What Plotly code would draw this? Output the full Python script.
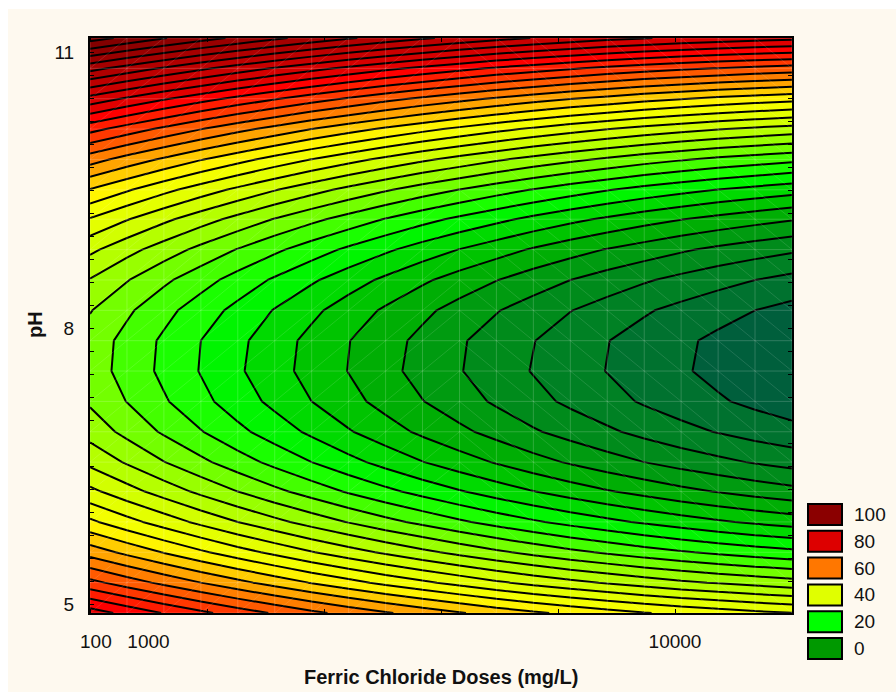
import plotly.graph_objects as go

# Ferric chloride dose grid (mg/L) and pH grid of the response surface
dose = [0, 632, 1263, 1895, 2526, 3158, 3789, 4421, 5053, 5684, 6316, 6947,
        7579, 8211, 8842, 9474, 10105, 10737, 11368, 12000]
ph = [4.91, 5.24, 5.57, 5.90, 6.23, 6.55, 6.88, 7.21, 7.54, 7.87, 8.20, 8.53,
      8.86, 9.19, 9.51, 9.84, 10.17, 10.50, 10.83, 11.16]

# response values, one row per pH value (bottom to top), one column per dose
z_rows = [
    [75.2, 72.5, 69.8, 67.3, 64.9, 62.6, 60.4, 58.3, 56.4, 54.5, 52.8, 51.1, 49.6, 48.2, 46.9, 45.7, 44.7, 43.7, 42.8, 42.1],
    [64.1, 61.3, 58.6, 56.0, 53.5, 51.1, 48.8, 46.7, 44.6, 42.7, 40.9, 39.1, 37.5, 36.0, 34.7, 33.4, 32.2, 31.2, 30.3, 29.4],
    [54.5, 51.6, 48.8, 46.1, 43.5, 41.1, 38.7, 36.5, 34.4, 32.4, 30.5, 28.7, 27.0, 25.4, 24.0, 22.6, 21.4, 20.3, 19.3, 18.4],
    [46.2, 43.2, 40.4, 37.6, 35.0, 32.5, 30.1, 27.8, 25.6, 23.6, 21.6, 19.7, 18.0, 16.4, 14.9, 13.5, 12.2, 11.0, 9.9, 9.0],
    [39.4, 36.4, 33.5, 30.7, 28.0, 25.4, 23.0, 20.6, 18.4, 16.3, 14.3, 12.4, 10.6, 8.9, 7.3, 5.9, 4.5, 3.3, 2.2, 1.2],
    [34.1, 31.1, 28.1, 25.3, 22.6, 20.0, 17.5, 15.1, 12.8, 10.6, 8.6, 6.7, 4.8, 3.1, 1.5, 0.0, -1.4, -2.6, -3.8, -4.8],
    [30.1, 27.0, 24.0, 21.2, 18.4, 15.8, 13.3, 10.8, 8.5, 6.3, 4.3, 2.3, 0.4, -1.3, -2.9, -4.5, -5.9, -7.2, -8.4, -9.4],
    [27.5, 24.4, 21.4, 18.5, 15.7, 13.1, 10.5, 8.1, 5.8, 3.6, 1.5, -0.5, -2.4, -4.2, -5.8, -7.4, -8.8, -10.1, -11.3, -12.4],
    [26.3, 23.2, 20.2, 17.3, 14.5, 11.8, 9.3, 6.9, 4.5, 2.3, 0.2, -1.8, -3.7, -5.5, -7.1, -8.7, -10.1, -11.4, -12.7, -13.8],
    [26.5, 23.4, 20.4, 17.5, 14.8, 12.1, 9.5, 7.1, 4.8, 2.6, 0.4, -1.5, -3.4, -5.2, -6.9, -8.4, -9.9, -11.2, -12.4, -13.5],
    [28.2, 25.1, 22.1, 19.2, 16.5, 13.8, 11.3, 8.8, 6.5, 4.3, 2.2, 0.2, -1.6, -3.4, -5.0, -6.6, -8.0, -9.3, -10.5, -11.6],
    [31.3, 28.2, 25.2, 22.4, 19.6, 17.0, 14.5, 12.1, 9.8, 7.6, 5.5, 3.6, 1.7, -0.0, -1.6, -3.1, -4.5, -5.8, -7.0, -8.1],
    [35.8, 32.7, 29.8, 27.0, 24.3, 21.7, 19.2, 16.8, 14.6, 12.4, 10.4, 8.5, 6.6, 4.9, 3.3, 1.9, 0.5, -0.8, -1.9, -2.9],
    [41.7, 38.7, 35.8, 33.0, 30.4, 27.8, 25.4, 23.1, 20.8, 18.7, 16.7, 14.9, 13.1, 11.4, 9.9, 8.4, 7.1, 5.9, 4.8, 3.8],
    [48.8, 45.9, 43.0, 40.3, 37.7, 35.2, 32.8, 30.5, 28.4, 26.3, 24.4, 22.5, 20.8, 19.2, 17.7, 16.3, 15.1, 13.9, 12.9, 11.9],
    [57.5, 54.6, 51.9, 49.2, 46.7, 44.2, 41.9, 39.7, 37.6, 35.6, 33.8, 32.0, 30.3, 28.8, 27.4, 26.0, 24.8, 23.7, 22.8, 21.9],
    [67.7, 64.9, 62.2, 59.6, 57.1, 54.8, 52.5, 50.4, 48.4, 46.5, 44.7, 43.0, 41.4, 39.9, 38.6, 37.3, 36.2, 35.2, 34.3, 33.5],
    [79.2, 76.5, 73.9, 71.4, 69.0, 66.8, 64.6, 62.6, 60.6, 58.8, 57.1, 55.5, 54.0, 52.6, 51.4, 50.2, 49.2, 48.2, 47.4, 46.7],
    [92.2, 89.6, 87.1, 84.7, 82.4, 80.2, 78.2, 76.2, 74.4, 72.7, 71.1, 69.5, 68.2, 66.9, 65.7, 64.6, 63.7, 62.9, 62.1, 61.5],
    [106.6, 104.1, 101.7, 99.4, 97.3, 95.2, 93.2, 91.4, 89.7, 88.0, 86.5, 85.1, 83.9, 82.7, 81.6, 80.7, 79.8, 79.1, 78.5, 78.0],
]

x_tickvals = [100, 1000, 10000]
x_ticktext = ["100", "1000", "10000"]
y_tickvals = [5, 8, 11]

legend_values = [100, 80, 60, 40, 20, 0]
legend_colors = ["#8b0000", "#dd0000", "#ff7700", "#e0ff00", "#00ff00", "#009900"]

ZMIN, ZMAX = -14, 108
stops = [(-14, "#005f3c"), (-9, "#007a2a"), (-2, "#008f18"), (5, "#00b400"),
         (12, "#00e000"), (16, "#00ff00"), (22, "#44ff00"), (27, "#88ff00"),
         (37, "#d8ff00"), (46, "#ffff00"), (56, "#ff9000"), (64, "#ff4000"),
         (72, "#ff0000"), (76, "#e00000"), (95, "#a00000"), (108, "#780000")]
cs = [[(v - ZMIN) / (ZMAX - ZMIN), c] for v, c in stops]

fig = go.Figure()
fig.add_trace(go.Contour(
    x=dose, y=ph, z=z_rows,
    contours=dict(start=-10.5, end=105, size=3.5, coloring="fill"),
    line=dict(color="black", width=2, smoothing=0),
    colorscale=cs, zmin=ZMIN, zmax=ZMAX, zauto=False, showscale=False,
    hoverinfo="skip"))

# faint mesh of the surface grid
gx, gy = [], []
for xv in dose:
    gx += [xv, xv, None]; gy += [ph[0], ph[-1], None]
for yv in ph:
    gx += [dose[0], dose[-1], None]; gy += [yv, yv, None]
dx, dy = [], []
half = len(dose) // 2
for j in range(len(dose) - 1):
    for i in range(len(ph) - 1):
        if j < half:
            dx += [dose[j], dose[j + 1], None]; dy += [ph[i], ph[i + 1], None]
        else:
            dx += [dose[j], dose[j + 1], None]; dy += [ph[i + 1], ph[i], None]
fig.add_trace(go.Scatter(x=gx, y=gy, mode="lines",
                         line=dict(color="rgba(255,255,255,0.18)", width=1),
                         hoverinfo="skip", showlegend=False))
fig.add_trace(go.Scatter(x=dx, y=dy, mode="lines",
                         line=dict(color="rgba(255,255,255,0.12)", width=1),
                         hoverinfo="skip", showlegend=False))

FONT = "Liberation Sans, Arial, sans-serif"
L, R, T, B = 90, 104, 38, 79
W, H = 896, 692
pw, ph_px = W - L - R, H - T - B


def px2x(px):
    return (px - L) / pw


def py2y(py):
    return (H - B - py) / ph_px


shapes = [dict(type="rect", xref="paper", yref="paper", layer="below",
               x0=px2x(8), x1=px2x(W + 2), y0=py2y(H + 2), y1=py2y(9),
               fillcolor="#fef9ef", line=dict(width=0))]
annotations = []
for k, (val, col) in enumerate(zip(legend_values, legend_colors)):
    top = 504 + 26.8 * k
    shapes.append(dict(type="rect", xref="paper", yref="paper",
                       x0=px2x(808), x1=px2x(842), y0=py2y(top + 21), y1=py2y(top),
                       fillcolor=col, line=dict(color="black", width=2)))
    annotations.append(dict(xref="paper", yref="paper", x=px2x(852), y=py2y(top + 10.5),
                            text=str(val), showarrow=False, xanchor="left", yanchor="middle",
                            font=dict(family=FONT, size=19, color="#111")))

annotations.append(dict(xref="paper", yref="paper", x=0.5, y=py2y(677),
                        text="<b>Ferric Chloride Doses (mg/L)</b>", showarrow=False,
                        xanchor="center", yanchor="middle",
                        font=dict(family=FONT, size=20, color="#111")))
annotations.append(dict(xref="paper", yref="paper", x=px2x(35), y=py2y(325),
                        text="<b>pH</b>", showarrow=False, textangle=-90,
                        xanchor="center", yanchor="middle",
                        font=dict(family=FONT, size=20, color="#111")))

fig.update_layout(
    width=W, height=H, margin=dict(l=L, r=R, t=T, b=B),
    paper_bgcolor="white", plot_bgcolor="#fef9ef",
    showlegend=False, shapes=shapes, annotations=annotations,
    xaxis=dict(range=[0, 12000], tickvals=x_tickvals, ticktext=x_ticktext, ticks="",
               showgrid=False, zeroline=False, showline=True, linecolor="black",
               linewidth=2, mirror="ticks", ticklabelstandoff=10,
               tickfont=dict(family=FONT, size=19, color="#111"),
               minor=dict(tickmode="linear", tick0=0, dtick=2000, ticks="inside",
                          ticklen=4, tickcolor="black", showgrid=False)),
    yaxis=dict(range=[4.91, 11.16], tickvals=y_tickvals, ticks="",
               showgrid=False, zeroline=False, showline=True, linecolor="black",
               linewidth=2, mirror="ticks", ticklabelstandoff=10,
               tickfont=dict(family=FONT, size=19, color="#111"),
               minor=dict(tickmode="linear", tick0=5, dtick=0.25, ticks="inside",
                          ticklen=4, tickcolor="black", showgrid=False)),
)

fig.write_html("out.html")
